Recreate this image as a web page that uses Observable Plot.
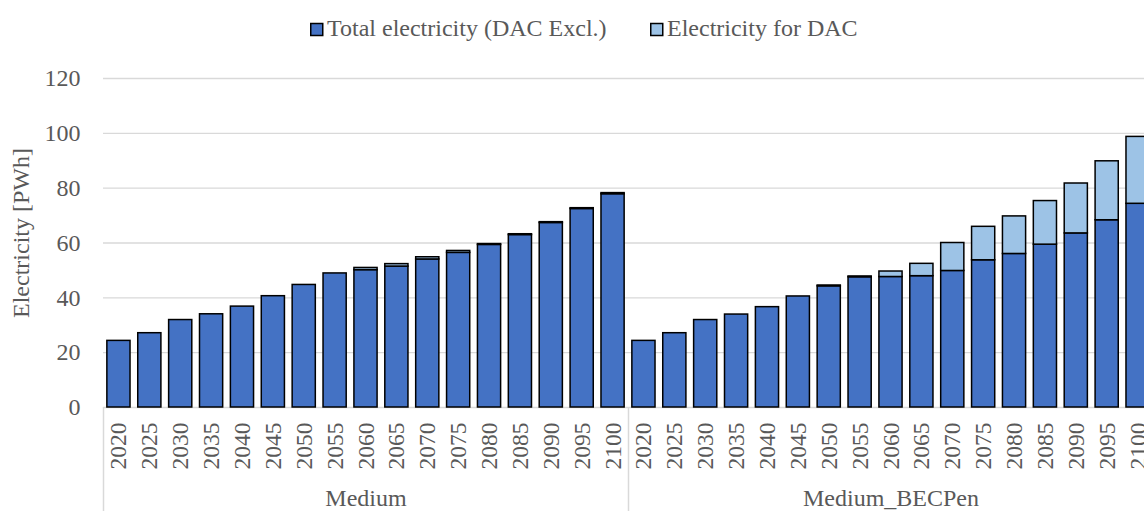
<!DOCTYPE html>
<html>
<head>
<meta charset="utf-8">
<script src="https://cdn.jsdelivr.net/npm/d3@7"></script>
<script src="https://cdn.jsdelivr.net/npm/@observablehq/plot@0.6"></script>
<style>
  html, body { margin: 0; padding: 0; background: #fff; width: 1144px; height: 511px; overflow: hidden; }
  #legend { display: block; }
  #chart svg { display: block; }
</style>
</head>
<body>
<svg id="legend" width="1144" height="60"></svg>
<div id="chart"></div>
<script>
// ---- data ----
const years = ["2020","2025","2030","2035","2040","2045","2050","2055","2060","2065","2070","2075","2080","2085","2090","2095","2100"];
const groups = ["Medium", "Medium_BECPen"];
const seriesNames = ["Total electricity (DAC Excl.)", "Electricity for DAC"];
const seriesColors = ["#4472C4", "#9DC3E6"];
const mediumTotal = [24.3, 27.1, 31.9, 34.0, 36.8, 40.6, 44.7, 48.9, 50.1, 51.4, 54.0, 56.4, 59.3, 62.9, 67.3, 72.4, 77.8];
const mediumDAC   = [0, 0, 0, 0, 0, 0, 0, 0, 0.8, 0.9, 0.8, 0.7, 0.3, 0.3, 0.3, 0.3, 0.4];
const becpenTotal = [24.3, 27.1, 31.9, 33.9, 36.6, 40.5, 44.2, 47.5, 47.6, 47.9, 49.8, 53.7, 56.0, 59.4, 63.5, 68.3, 74.3];
const becpenDAC   = [0, 0, 0, 0, 0, 0, 0.3, 0.3, 2.0, 4.5, 10.2, 12.2, 13.7, 15.9, 18.2, 21.5, 24.4];
const yTicks = [0, 20, 40, 60, 80, 100, 120];
const yTitle = "Electricity [PWh]";

// ---- table ----
const valuesByGroup = {
  "Medium": [mediumTotal, mediumDAC],
  "Medium_BECPen": [becpenTotal, becpenDAC]
};
const rows = [];
for (const g of groups) {
  years.forEach((yr, i) => {
    seriesNames.forEach((s, k) => {
      rows.push({key: g + "|" + yr, group: g, year: yr, series: s, value: valuesByGroup[g][k][i]});
    });
  });
}
const xDomain = groups.flatMap(g => years.map(yr => g + "|" + yr));
const midYear = years[Math.floor(years.length / 2)];

// ---- layout ----
const width = 1160, height = 451;
const marginLeft = 103, marginRight = 7, marginTop = 18, marginBottom = 104;
const step = (width - marginLeft - marginRight) / xDomain.length;
const textColor = "#595959";
const fontFamily = "'Liberation Serif', 'Times New Roman', Times, serif";

// ---- legend ----
const legend = d3.select("#legend").style("font-family", fontFamily);
const legendX = [310, 650];
seriesNames.forEach((s, k) => {
  legend.append("rect").attr("x", legendX[k] + 0.75).attr("y", 23.5).attr("width", 12).attr("height", 12)
    .attr("fill", seriesColors[k]).attr("stroke", "#000").attr("stroke-width", 1.5);
  legend.append("text").attr("x", legendX[k] + 17).attr("y", 36).attr("font-size", 24)
    .attr("fill", textColor).text(s);
});

// ---- chart ----
const chart = Plot.plot({
  width, height, marginLeft, marginRight, marginTop, marginBottom,
  style: {fontFamily, fontSize: "24px", color: textColor, maxWidth: "none", background: "white"},
  x: {domain: xDomain, paddingInner: 0.25, paddingOuter: 0.125, round: false, axis: null},
  y: {domain: [0, 120], axis: null},
  color: {domain: seriesNames, range: seriesColors},
  marks: [
    Plot.ruleY(yTicks, {stroke: "#d9d9d9", strokeWidth: 1.3}),
    Plot.barY(rows, {x: "key", y: "value", fill: "series", stroke: "#000", strokeWidth: 1.5}),
    Plot.axisX({tickFormat: d => d.split("|")[1], tickRotate: -90, tickSize: 0, tickPadding: 15, fontSize: 23.5, fill: textColor, label: null}),
    Plot.axisY({ticks: yTicks, tickSize: 0, tickPadding: 23, fontSize: 24, fill: textColor, label: null}),
    Plot.ruleX(groups.map(g => g + "|" + years[0]), {x: d => d, dx: -step / 2, y1: 0, y2: -38, stroke: "#d9d9d9", strokeWidth: 1.5}),
    Plot.text(groups, {x: g => g + "|" + midYear, text: d => d, frameAnchor: "bottom", dy: 98, fontSize: 24, fill: textColor}),
    Plot.text([yTitle], {text: d => d, frameAnchor: "left", textAnchor: "middle", rotate: -90, dx: -82, dy: -10, fontSize: 24, fill: textColor})
  ]
});
document.getElementById("chart").appendChild(chart);
</script>
</body>
</html>
